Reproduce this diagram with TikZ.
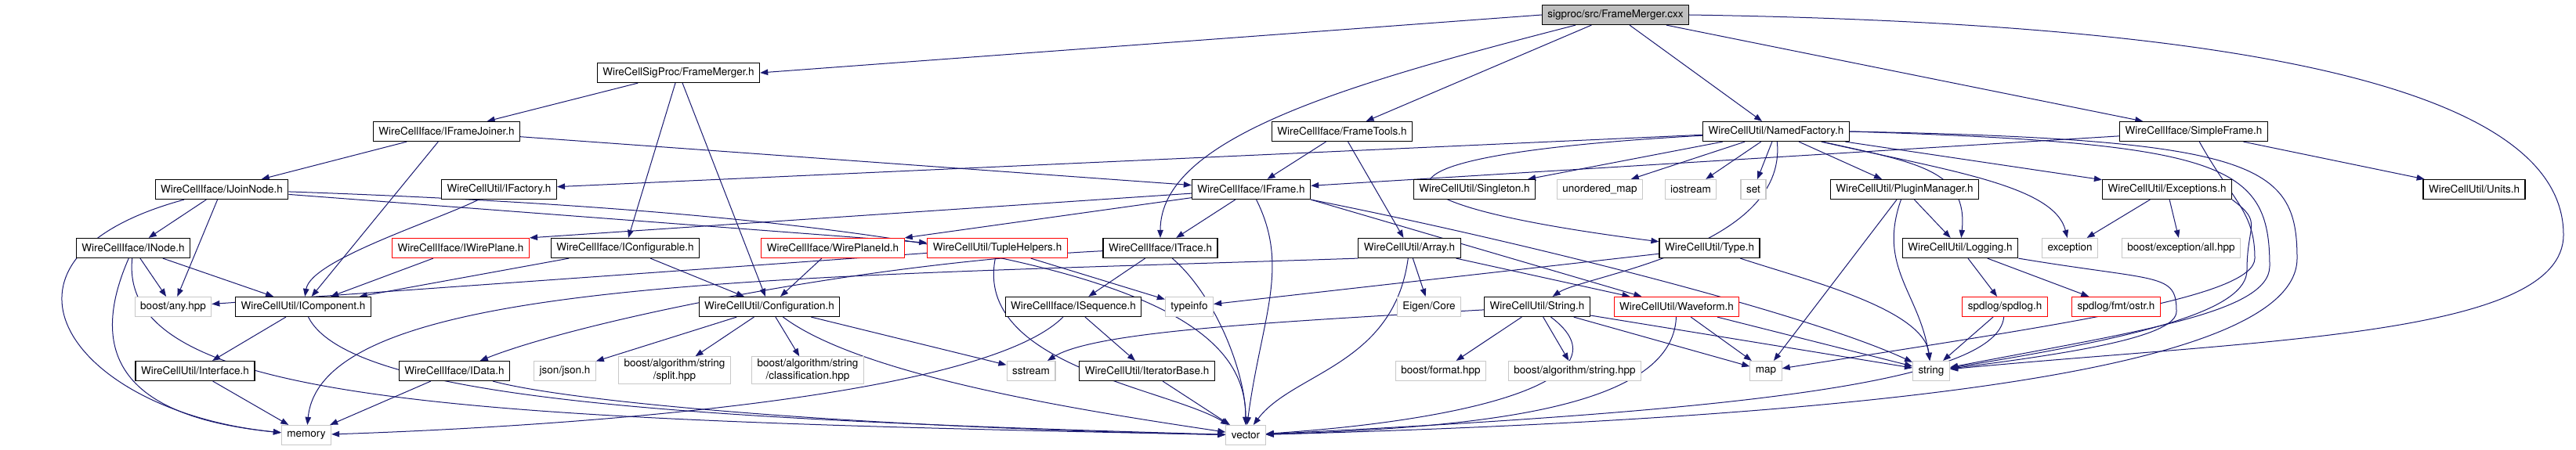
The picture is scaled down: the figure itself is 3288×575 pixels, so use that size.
\documentclass[tikz,border=0pt]{standalone}
\usepackage{fontspec}
\setmainfont{TeX Gyre Heros}
\usepackage{tikz}
\usetikzlibrary{arrows.meta,backgrounds}
\definecolor{DoxEdge}{RGB}{25,25,112}
\definecolor{DoxRoot}{RGB}{191,191,191}
\definecolor{DoxSysBorder}{RGB}{200,200,200}
\definecolor{DoxCutBorder}{RGB}{255,0,0}
\tikzset{
  header/.style={draw=black, fill=white, line width=1.2pt, align=center,
                font=\fontsize{13.5}{15.5}\selectfont, inner xsep=7pt, inner ysep=3pt, minimum height=25pt},
  rootfile/.style={header, fill=DoxRoot},
  sysheader/.style={header, draw=DoxSysBorder},
  cutheader/.style={header, draw=DoxCutBorder},
  % one arrow style for every #include edge
  includerel/.style={-{Triangle[length=10pt,width=7.5pt]}, line width=1pt, DoxEdge},
}

\begin{document}
\begin{tikzpicture}[x=1pt,y=-1pt]
  \useasboundingbox (0,0) rectangle (3288,575);

  \node[rootfile]  (root)     at (2062, 19)  {sigproc/src/FrameMerger.cxx};
  \node[header]    (fmergerh) at (866, 93)   {WireCellSigProc/FrameMerger.h};

  \node[header]    (fjoiner)  at (570, 168)  {WireCellIface/IFrameJoiner.h};
  \node[header]    (ftools)   at (1713, 168) {WireCellIface/FrameTools.h};
  \node[header]    (nfactory) at (2267, 168) {WireCellUtil/NamedFactory.h};
  \node[header]    (sframe)   at (2800, 168) {WireCellIface/SimpleFrame.h};

  \node[header]    (jnode)      at (283, 242)  {WireCellIface/IJoinNode.h};
  \node[header]    (ifactory)   at (637, 242)  {WireCellUtil/IFactory.h};
  \node[header]    (iframe)     at (1597, 242) {WireCellIface/IFrame.h};
  \node[header]    (singleton)  at (1882, 242) {WireCellUtil/Singleton.h};
  \node[sysheader] (umap)       at (2042, 242) {unordered\_map};
  \node[sysheader] (iostream)   at (2158, 242) {iostream};
  \node[sysheader] (stdset)     at (2238, 242) {set};
  \node[header]    (pluginmgr)  at (2431, 242) {WireCellUtil/PluginManager.h};
  \node[header]    (exceptions) at (2766, 242) {WireCellUtil/Exceptions.h};
  \node[header]    (units)      at (3158, 242) {WireCellUtil/Units.h};

  \node[header]    (inode)     at (170, 317)  {WireCellIface/INode.h};
  \node[cutheader] (iwplane)   at (588, 317)  {WireCellIface/IWirePlane.h};
  \node[header]    (iconfig)   at (798, 317)  {WireCellIface/IConfigurable.h};
  \node[cutheader] (wpid)      at (1063, 317) {WireCellIface/WirePlaneId.h};
  \node[cutheader] (tuplehlp)  at (1273, 317) {WireCellUtil/TupleHelpers.h};
  \node[header]    (itrace)    at (1481, 317) {WireCellIface/ITrace.h};
  \node[header]    (array)     at (1799, 317) {WireCellUtil/Array.h};
  \node[header]    (typeh)     at (2182, 317) {WireCellUtil/Type.h};
  \node[header]    (logging)   at (2502, 317) {WireCellUtil/Logging.h};
  \node[sysheader] (exception) at (2642, 317) {exception};
  \node[sysheader] (boostexc)  at (2784, 317) {boost/exception/all.hpp};

  \node[sysheader] (boostany) at (221, 392)  {boost/any.hpp};
  \node[header]    (icomp)    at (387, 392)  {WireCellUtil/IComponent.h};
  \node[header]    (config)   at (982, 392)  {WireCellUtil/Configuration.h};
  \node[header]    (iseq)     at (1370, 392) {WireCellIface/ISequence.h};
  \node[sysheader] (typeinfo) at (1518, 392) {typeinfo};
  \node[sysheader] (eigen)    at (1824, 392) {Eigen/Core};
  \node[header]    (stringh)  at (1962, 392) {WireCellUtil/String.h};
  \node[cutheader] (waveform) at (2140, 392) {WireCellUtil/Waveform.h};
  \node[cutheader] (spdlog)   at (2559, 392) {spdlog/spdlog.h};
  \node[cutheader] (fmtostr)  at (2701, 392) {spdlog/fmt/ostr.h};

  \node[header]    (iface)     at (249, 474)  {WireCellUtil/Interface.h};
  \node[header]    (idata)     at (580, 474)  {WireCellIface/IData.h};
  \node[sysheader] (json)      at (721, 474)  {json/json.h};
  \node[sysheader] (split)     at (861, 473)  {boost/algorithm/string\\/split.hpp};
  \node[sysheader] (classif)   at (1031, 473) {boost/algorithm/string\\/classification.hpp};
  \node[sysheader] (sstream)   at (1316, 474) {sstream};
  \node[header]    (iterbase)  at (1464, 474) {WireCellUtil/IteratorBase.h};
  \node[sysheader] (bformat)   at (1839, 474) {boost/format.hpp};
  \node[sysheader] (balgo)     at (2010, 474) {boost/algorithm/string.hpp};
  \node[sysheader] (stdmap)    at (2254, 474) {map};
  \node[sysheader] (stdstring) at (2465, 474) {string};

  \node[sysheader] (memory) at (391, 556)  {memory};
  \node[sysheader] (vector) at (1590, 556) {vector};

  % bend points of the long edges on the right
  \coordinate (bendroot) at (3272, 300);
  \coordinate (bendsf)   at (2878, 330);
  \coordinate (bendnfa)  at (2897, 340);
  \coordinate (bendnfb)  at (2932, 330);
  \coordinate (bendexc)  at (2868, 345);
  \coordinate (bendlog)  at (2778, 398);

  \begin{scope}[on background layer]
  % what the source file includes
  \draw[includerel] (root.west) -- (fmergerh.east);
  \draw[includerel] (root) .. controls +(-350,90) and +(0,-140) .. (itrace);
  \draw[includerel] (root) -- (ftools);
  \draw[includerel] (root) -- (nfactory);
  \draw[includerel] (root) -- (sframe);
  \draw[includerel] (root.east) .. controls +(650,10) and +(0,-200) .. (bendroot) .. controls +(0,130) and +(420,-40) .. (stdstring);

  \draw[includerel] (fmergerh) -- (fjoiner);
  \draw[includerel] (fmergerh) -- (iconfig);
  \draw[includerel] (fmergerh) -- (config);

  \draw[includerel] (fjoiner) -- (jnode);
  \draw[includerel] (fjoiner) -- (iframe);
  \draw[includerel] (fjoiner) -- (icomp);

  \draw[includerel] (jnode) -- (inode);
  \draw[includerel] (jnode) -- (boostany);
  \draw[includerel] (jnode) .. controls +(-330,90) and +(-300,-30) .. (memory);
  \draw[includerel] (jnode) -- (tuplehlp);
  \draw[includerel] (jnode) .. controls +(1150,40) and +(0,-150) .. (vector);

  \draw[includerel] (inode) -- (boostany);
  \draw[includerel] (inode) -- (icomp);
  \draw[includerel] (inode) .. controls +(-70,160) and +(-200,-20) .. (memory);
  \draw[includerel] (inode) .. controls +(-20,200) and +(-1000,-20) .. (vector);

  \draw[includerel] (ifactory) .. controls +(-80,40) and +(10,-60) .. (icomp);
  \draw[includerel] (iwplane) -- (icomp);
  \draw[includerel] (iconfig) -- (icomp);
  \draw[includerel] (iconfig) -- (config);
  \draw[includerel] (wpid) -- (config);

  \draw[includerel] (icomp) -- (iface);
  \draw[includerel] (icomp) .. controls +(60,120) and +(-700,-20) .. (vector);
  \draw[includerel] (iface) -- (memory);
  \draw[includerel] (idata) -- (memory);
  \draw[includerel] (idata) .. controls +(150,40) and +(-500,-10) .. (vector);

  \draw[includerel] (config) -- (json);
  \draw[includerel] (config) -- (split);
  \draw[includerel] (config) -- (classif);
  \draw[includerel] (config) -- (sstream);
  \draw[includerel] (config) .. controls +(120,90) and +(-200,-30) .. (vector);

  \draw[includerel] (tuplehlp) -- (boostany);
  \draw[includerel] (tuplehlp) -- (typeinfo);
  \draw[includerel] (tuplehlp) .. controls +(-30,150) and +(-100,-60) .. (vector);

  \draw[includerel] (itrace) -- (iseq);
  \draw[includerel] (itrace) .. controls +(70,60) and +(0,-80) .. (vector);
  \draw[includerel] (itrace) .. controls +(-400,20) and +(150,-60) .. (idata);
  \draw[includerel] (iseq) -- (iterbase);
  \draw[includerel] (iseq) .. controls +(-120,120) and +(300,-10) .. (memory);
  \draw[includerel] (iterbase) -- (vector);

  \draw[includerel] (iframe) -- (iwplane.north east);
  \draw[includerel] (iframe) -- (wpid.north east);
  \draw[includerel] (iframe) -- (itrace);
  \draw[includerel] (iframe) .. controls +(50,100) and +(20,-150) .. (vector);
  \draw[includerel] (iframe.south east) -- (waveform);
  \draw[includerel] (iframe.south east) .. controls +(300,60) and +(-150,-70) .. (stdstring);

  \draw[includerel] (ftools) -- (iframe);
  \draw[includerel] (ftools) -- (array);

  \draw[includerel] (sframe) -- (iframe);
  \draw[includerel] (sframe) -- (units);
  \draw[includerel] (sframe) .. controls +(50,90) and +(0,-60) .. (bendsf) .. controls +(0,50) and +(380,-60) .. (stdmap);

  \draw[includerel] (nfactory) -- (ifactory);
  \draw[includerel] (nfactory) -- (singleton);
  \draw[includerel] (nfactory) -- (umap);
  \draw[includerel] (nfactory) -- (iostream);
  \draw[includerel] (nfactory) -- (stdset);
  \draw[includerel] (nfactory) -- (pluginmgr);
  \draw[includerel] (nfactory) .. controls +(-540,30) and +(-470,-60) .. (typeh);
  \draw[includerel] (nfactory) .. controls +(15,150) and +(60,-40) .. (stringh);
  \draw[includerel] (nfactory) .. controls +(180,40) and +(10,-100) .. (logging);
  \draw[includerel] (nfactory) .. controls +(220,50) and +(-20,-80) .. (exception);
  \draw[includerel] (nfactory) -- (exceptions);
  \draw[includerel] (nfactory.east) .. controls +(480,15) and +(0,-130) .. (bendnfa) .. controls +(0,60) and +(260,-50) .. (stdstring);
  \draw[includerel] (nfactory.east) .. controls +(520,10) and +(0,-120) .. (bendnfb) .. controls +(0,130) and +(900,-25) .. (vector);

  \draw[includerel] (typeh) -- (typeinfo);
  \draw[includerel] (typeh) .. controls +(120,40) and +(-10,-80) .. (stdstring);

  \draw[includerel] (array) -- (eigen);
  \draw[includerel] (array) .. controls +(-20,150) and +(60,-80) .. (vector);
  \draw[includerel] (array) -- (waveform);
  \draw[includerel] (array.south west) .. controls +(-750,25) and +(20,-200) .. (memory);

  \draw[includerel] (stringh) .. controls +(-350,20) and +(80,-50) .. (sstream);
  \draw[includerel] (stringh) -- (bformat);
  \draw[includerel] (stringh) -- (balgo);
  \draw[includerel] (stringh) -- (stdmap);
  \draw[includerel] (stringh) -- (stdstring);
  \draw[includerel] (stringh) .. controls +(120,90) and +(300,-20) .. (vector);

  \draw[includerel] (waveform) -- (stdmap);
  \draw[includerel] (waveform) -- (stdstring);
  \draw[includerel] (waveform) .. controls +(-5,130) and +(300,-10) .. (vector);

  \draw[includerel] (pluginmgr) -- (logging);
  \draw[includerel] (pluginmgr) -- (stdmap);
  \draw[includerel] (pluginmgr) .. controls +(-35,100) and +(-15,-100) .. (stdstring);

  \draw[includerel] (logging) -- (spdlog);
  \draw[includerel] (logging) -- (fmtostr);
  \draw[includerel] (logging.south east) .. controls +(180,30) and +(0,-50) .. (bendlog) .. controls +(0,30) and +(200,-25) .. (stdstring);

  \draw[includerel] (exceptions) -- (exception);
  \draw[includerel] (exceptions) -- (boostexc);
  \draw[includerel] (exceptions.south east) .. controls +(40,30) and +(0,-60) .. (bendexc) .. controls +(0,50) and +(280,-45) .. (stdstring);

  \draw[includerel] (spdlog) -- (stdstring);
  \draw[includerel] (spdlog) .. controls +(-10,100) and +(600,-30) .. (vector);
  \end{scope}

\end{tikzpicture}
\end{document}
